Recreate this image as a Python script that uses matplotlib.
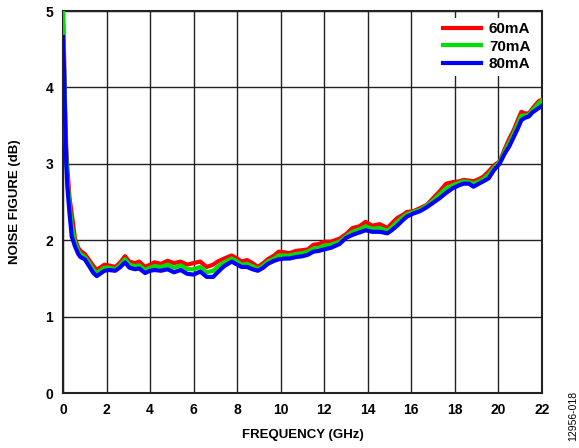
import matplotlib
matplotlib.use('Agg')
import matplotlib.pyplot as plt

plt.rcParams['font.family'] = ['Liberation Sans', 'DejaVu Sans']

# Frekuensi (GHz) dan noise figure (dB) per arus bias
freq = [0.0, 0.05, 0.1, 0.15, 0.2, 0.3, 0.4, 0.55, 0.7, 0.8, 1.0, 1.2, 1.4, 1.55, 1.7,
        1.9, 2.1, 2.4, 2.6, 2.85, 3.05, 3.3, 3.5, 3.77, 4.0, 4.2, 4.5, 4.8, 5.1, 5.4,
        5.7, 6.0, 6.3, 6.6, 6.9, 7.1, 7.4, 7.75, 8.0, 8.2, 8.45, 8.7, 8.95, 9.2, 9.4,
        9.7, 9.9, 10.2, 10.4, 10.7, 11.0, 11.25, 11.5, 11.75, 12.0, 12.3, 12.7, 13.0,
        13.3, 13.6, 13.9, 14.2, 14.55, 14.9, 15.1, 15.35, 15.6, 15.8, 16.1, 16.4, 16.7,
        17.0, 17.3, 17.6, 17.9, 18.2, 18.4, 18.65, 18.85, 19.1, 19.3, 19.55, 19.8,
        20.05, 20.3, 20.5, 20.7, 20.9, 21.05, 21.2, 21.4, 21.55, 21.7, 21.85, 22.0]

nf_60 = [5.0, 4.4, 3.7, 3.2, 2.95, 2.55, 2.35, 2.02, 1.9, 1.86, 1.82, 1.74, 1.66, 1.61, 1.64,
         1.68, 1.67, 1.65, 1.70, 1.79, 1.72, 1.70, 1.72, 1.65, 1.68, 1.71, 1.69, 1.73, 1.70, 1.72,
         1.68, 1.70, 1.72, 1.65, 1.68, 1.72, 1.76, 1.80, 1.76, 1.72, 1.74, 1.70, 1.65, 1.70, 1.75,
         1.80, 1.85, 1.84, 1.83, 1.86, 1.87, 1.88, 1.94, 1.95, 1.98, 1.98, 2.02, 2.08,
         2.16, 2.18, 2.24, 2.19, 2.21, 2.16, 2.22, 2.29, 2.33, 2.37, 2.38, 2.42, 2.46,
         2.55, 2.64, 2.74, 2.76, 2.77, 2.79, 2.78, 2.77, 2.80, 2.83, 2.90, 2.98,
         3.03, 3.20, 3.33, 3.44, 3.58, 3.68, 3.66, 3.66, 3.72, 3.77, 3.82, 3.84]

nf_70 = [5.0, 4.3, 3.6, 3.1, 2.82, 2.45, 2.2, 1.97, 1.86, 1.82, 1.78, 1.70, 1.61, 1.57, 1.60,
         1.64, 1.64, 1.62, 1.67, 1.75, 1.68, 1.66, 1.67, 1.61, 1.64, 1.66, 1.65, 1.68, 1.64, 1.67,
         1.62, 1.62, 1.65, 1.58, 1.60, 1.65, 1.71, 1.76, 1.72, 1.68, 1.69, 1.66, 1.62, 1.67, 1.72,
         1.76, 1.80, 1.80, 1.80, 1.82, 1.83, 1.85, 1.89, 1.90, 1.93, 1.94, 1.98, 2.05,
         2.11, 2.14, 2.18, 2.15, 2.16, 2.12, 2.17, 2.24, 2.30, 2.34, 2.37, 2.40, 2.45,
         2.52, 2.60, 2.68, 2.72, 2.75, 2.77, 2.76, 2.74, 2.77, 2.80, 2.86, 2.95,
         3.02, 3.17, 3.28, 3.40, 3.53, 3.63, 3.63, 3.64, 3.70, 3.74, 3.79, 3.83]

nf_80 = [4.66, 4.2, 3.5, 3.0, 2.7, 2.35, 2.05, 1.92, 1.82, 1.78, 1.75, 1.66, 1.57, 1.53, 1.56,
         1.60, 1.61, 1.60, 1.64, 1.71, 1.64, 1.62, 1.63, 1.57, 1.60, 1.61, 1.60, 1.62, 1.58, 1.61,
         1.56, 1.55, 1.59, 1.52, 1.52, 1.58, 1.66, 1.72, 1.68, 1.65, 1.65, 1.62, 1.60, 1.64, 1.69,
         1.73, 1.75, 1.76, 1.76, 1.78, 1.79, 1.81, 1.85, 1.86, 1.88, 1.90, 1.95, 2.03,
         2.07, 2.10, 2.13, 2.11, 2.11, 2.09, 2.13, 2.19, 2.26, 2.31, 2.35, 2.38, 2.43,
         2.49, 2.55, 2.62, 2.68, 2.72, 2.74, 2.74, 2.70, 2.74, 2.77, 2.81, 2.92,
         3.00, 3.14, 3.23, 3.35, 3.47, 3.57, 3.60, 3.62, 3.67, 3.70, 3.73, 3.76]

labels = ['60mA', '70mA', '80mA']
colors = ['#ff0000', '#00e000', '#0000ff']

fig = plt.figure(figsize=(5.79, 4.48), dpi=100)
ax = fig.add_axes([63/579, 55/448, 479/579, 382/448])

for y, lab, c in zip([nf_60, nf_70, nf_80], labels, colors):
    ax.plot(freq, y, color=c, lw=3, label=lab, solid_joinstyle='round', zorder=3)

ax.set_xlim(0, 22)
ax.set_ylim(0, 5)
ax.set_xticks(range(0, 23, 2))
ax.set_yticks(range(0, 6))
ax.grid(True, color='#222222', lw=1.0)
ax.set_axisbelow(True)
for s in ax.spines.values():
    s.set_linewidth(1.5)
    s.set_color('#222222')
ax.tick_params(length=0, labelsize=10, pad=7)
for t in ax.get_xticklabels() + ax.get_yticklabels():
    t.set_fontweight('bold')

ax.set_xlabel('FREQUENCY (GHz)', fontsize=9.5, fontweight='bold', labelpad=9)
ax.set_ylabel('NOISE FIGURE (dB)', fontsize=9.5, fontweight='bold', labelpad=18)

leg = ax.legend(loc='upper right', fontsize=11, handlelength=2.5, handletextpad=0.5,
                labelspacing=0.22, borderpad=0.3, borderaxespad=0.45,
                frameon=True, fancybox=False, framealpha=1)
leg.get_frame().set_edgecolor('none')
leg.get_frame().set_facecolor('white')
leg.set_zorder(5)
for t in leg.get_texts():
    t.set_fontweight('bold')
for h in leg.get_lines():
    h.set_linewidth(3)

fig.text(573/579, (448-416)/448, '12956-018', rotation=90, fontsize=7.5,
         ha='center', va='center')

plt.savefig('out.png', dpi=100)
